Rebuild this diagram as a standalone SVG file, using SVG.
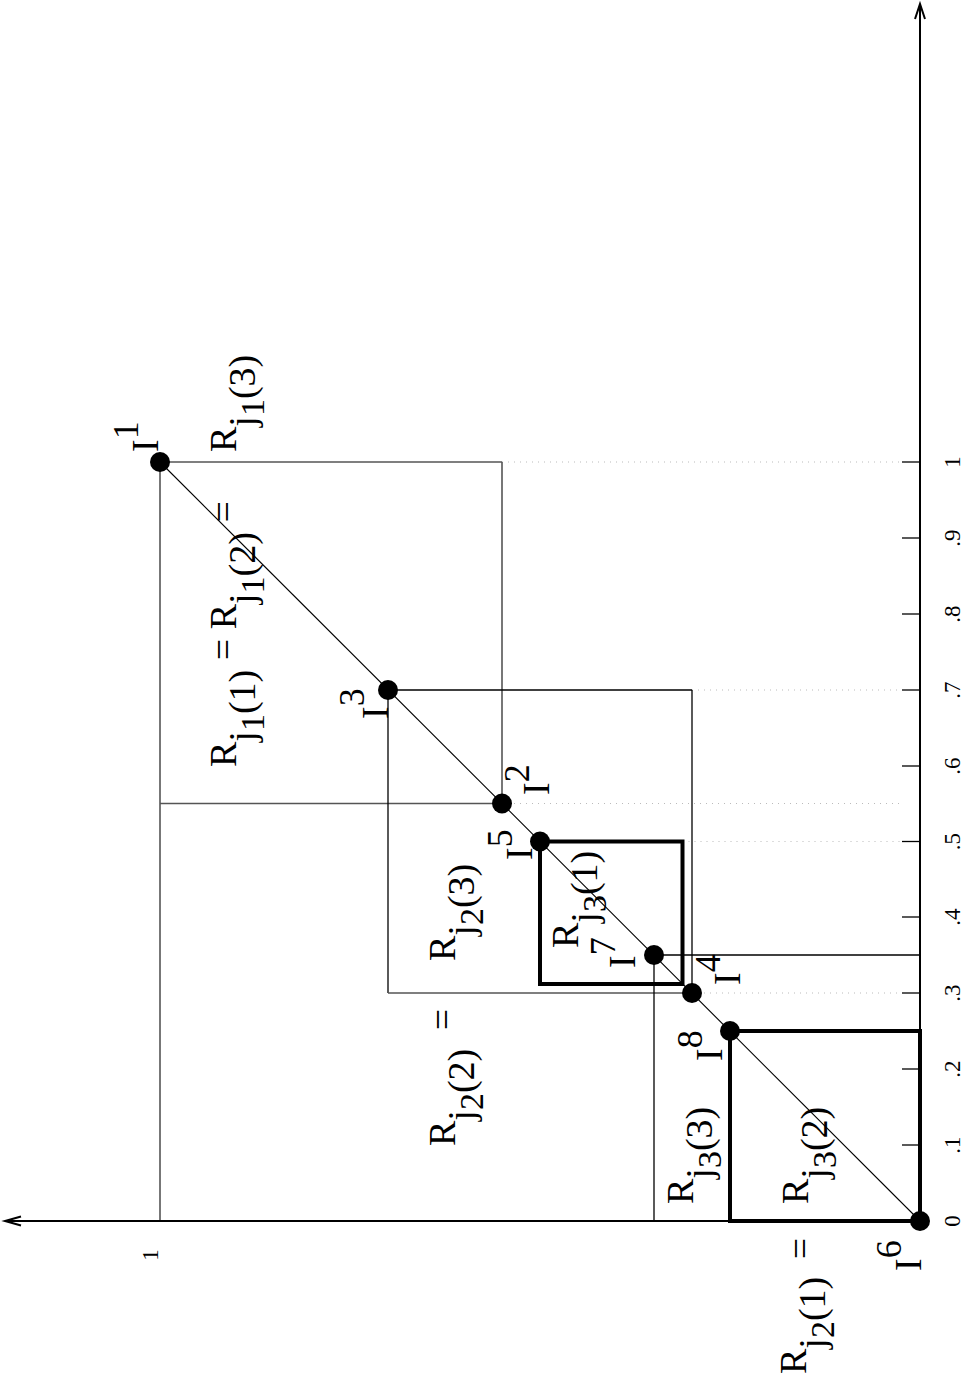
<svg xmlns="http://www.w3.org/2000/svg" width="965" height="1378" viewBox="0 0 965 1378">
<style>
.ax{stroke:#000;stroke-width:2;fill:none}
.tk{stroke:#000;stroke-width:1.3}
.g{stroke:#555;stroke-width:1.6;fill:none}
.b{stroke:#000;stroke-width:1.3;fill:none}
.dg{stroke:#000;stroke-width:1.1}
.th{stroke:#000;stroke-width:4;fill:none}
.dt{stroke:#bbb;stroke-width:1;stroke-dasharray:1 5}
.pt{fill:#000}
text{font-family:"Liberation Serif","Times New Roman",serif;fill:#000}
.L{font-size:38px}
.ss{font-size:34px}
.sp{font-size:36px}
.n{font-size:23px;text-anchor:middle}
</style>
<rect width="965" height="1378" fill="#fff"/>
<g id="connectors">
<line class="dt" x1="502" y1="462" x2="902" y2="462"/>
<line class="dt" x1="692" y1="690" x2="902" y2="690"/>
<line class="dt" x1="502" y1="803.5" x2="902" y2="803.5"/>
<line class="dt" x1="682.5" y1="841.5" x2="902" y2="841.5"/>
<line class="dt" x1="692" y1="993" x2="902" y2="993"/>
<line class="g" x1="160" y1="462" x2="160" y2="1221"/>
<line class="g" x1="160" y1="462" x2="502" y2="462"/>
<line class="g" x1="502" y1="462" x2="502" y2="803.5"/>
<line class="g" x1="160" y1="803.5" x2="502" y2="803.5"/>
<line class="b" x1="388" y1="690" x2="692" y2="690"/>
<line class="b" x1="388" y1="690" x2="388" y2="993"/>
<line class="b" x1="692" y1="690" x2="692" y2="993"/>
<line class="g" x1="388" y1="993" x2="692" y2="993"/>
<line class="b" x1="654" y1="955" x2="920" y2="955"/>
<line class="b" x1="654" y1="955" x2="654" y2="1221"/>
<line class="dg" x1="160" y1="462" x2="920" y2="1221"/>
<rect class="th" x="540" y="841.5" width="142.5" height="142.5"/>
<rect class="th" x="730" y="1031" width="190" height="190"/>
</g>
<g id="axes">
<line class="ax" x1="920" y1="1221" x2="920" y2="4"/>
<polyline class="ax" stroke-width="1.5" points="915,19 920,4 925,19"/>
<line class="ax" x1="920" y1="1221" x2="5" y2="1221"/>
<polyline class="ax" stroke-width="1.5" points="21,1216.5 5,1221 21,1225.5"/>
<line class="tk" x1="902" y1="1145" x2="920" y2="1145"/>
<line class="tk" x1="902" y1="1069" x2="920" y2="1069"/>
<line class="tk" x1="902" y1="993" x2="920" y2="993"/>
<line class="tk" x1="902" y1="917" x2="920" y2="917"/>
<line class="tk" x1="902" y1="841.5" x2="920" y2="841.5"/>
<line class="tk" x1="902" y1="766" x2="920" y2="766"/>
<line class="tk" x1="902" y1="690" x2="920" y2="690"/>
<line class="tk" x1="902" y1="614" x2="920" y2="614"/>
<line class="tk" x1="902" y1="538" x2="920" y2="538"/>
<line class="tk" x1="902" y1="462" x2="920" y2="462"/>
<g transform="translate(0,1378) rotate(-90)">
<text class="n" x="157" y="960">0</text>
<text class="n" x="233" y="960">.1</text>
<text class="n" x="309" y="960">.2</text>
<text class="n" x="385" y="960">.3</text>
<text class="n" x="461" y="960">.4</text>
<text class="n" x="536.5" y="960">.5</text>
<text class="n" x="612" y="960">.6</text>
<text class="n" x="688" y="960">.7</text>
<text class="n" x="764" y="960">.8</text>
<text class="n" x="840" y="960">.9</text>
<text class="n" x="916" y="960">1</text>
<text class="n" x="123" y="158">1</text>
</g>
</g>
<g id="I1"><circle class="pt" cx="160" cy="462" r="10"/><text class="L" transform="translate(158,452) rotate(-90)">I<tspan class="sp" dy="-20">1</tspan></text></g>
<g id="I3"><circle class="pt" cx="388" cy="690" r="10"/><text class="L" transform="translate(388,719) rotate(-90)">I<tspan class="sp" dy="-24">3</tspan></text></g>
<g id="I2"><circle class="pt" cx="502" cy="803.5" r="10"/><text class="L" transform="translate(549,795) rotate(-90)">I<tspan class="sp" dy="-20">2</tspan></text></g>
<g id="I5"><circle class="pt" cx="540" cy="841.5" r="10"/><text class="L" transform="translate(532,860) rotate(-90)">I<tspan class="sp" dy="-20">5</tspan></text></g>
<g id="I7"><circle class="pt" cx="654" cy="955" r="10"/><text class="L" transform="translate(635,968) rotate(-90)">I<tspan class="sp" dy="-20">7</tspan></text></g>
<g id="I4"><circle class="pt" cx="692" cy="993" r="10"/><text class="L" transform="translate(740,985) rotate(-90)">I<tspan class="sp" dy="-20">4</tspan></text></g>
<g id="I8"><circle class="pt" cx="730" cy="1031" r="10"/><text class="L" transform="translate(722,1061) rotate(-90)">I<tspan class="sp" dy="-20">8</tspan></text></g>
<g id="I6"><circle class="pt" cx="920" cy="1221" r="10"/><text class="L" transform="translate(921,1271) rotate(-90)">I<tspan class="sp" dy="-20">6</tspan></text></g>
<g id="Rj1">
<text class="L" transform="translate(236,767) rotate(-90)">R<tspan dy="19">j</tspan><tspan class="ss" dy="9">1</tspan><tspan dy="-9">(1)</tspan><tspan dy="-19"> = R</tspan><tspan dy="19">j</tspan><tspan class="ss" dy="9">1</tspan><tspan dy="-9">(2)</tspan><tspan dy="-19"> =</tspan></text>
<text class="L" transform="translate(236,452) rotate(-90)">R<tspan dy="19">j</tspan><tspan class="ss" dy="9">1</tspan><tspan dy="-9">(3)</tspan></text>
</g>
<g id="Rj2">
<text class="L" transform="translate(455,961) rotate(-90)">R<tspan dy="19">j</tspan><tspan class="ss" dy="9">2</tspan><tspan dy="-9">(3)</tspan></text>
<text class="L" transform="translate(455,1146) rotate(-90)">R<tspan dy="19">j</tspan><tspan class="ss" dy="9">2</tspan><tspan dy="-9">(2)</tspan><tspan dy="-19" dx="9"> =</tspan></text>
<text class="L" transform="translate(806,1374) rotate(-90)">R<tspan dy="19">j</tspan><tspan class="ss" dy="9">2</tspan><tspan dy="-9">(1)</tspan><tspan dy="-12" dx="8"> =</tspan></text>
</g>
<g id="Rj3">
<text class="L" transform="translate(578,948) rotate(-90)">R<tspan dy="19">j</tspan><tspan class="ss" dy="9">3</tspan><tspan dy="-9">(1)</tspan></text>
<text class="L" transform="translate(693,1204) rotate(-90)">R<tspan dy="19">j</tspan><tspan class="ss" dy="9">3</tspan><tspan dy="-9">(3)</tspan></text>
<text class="L" transform="translate(808,1204) rotate(-90)">R<tspan dy="19">j</tspan><tspan class="ss" dy="9">3</tspan><tspan dy="-9">(2)</tspan></text>
</g>
</svg>
